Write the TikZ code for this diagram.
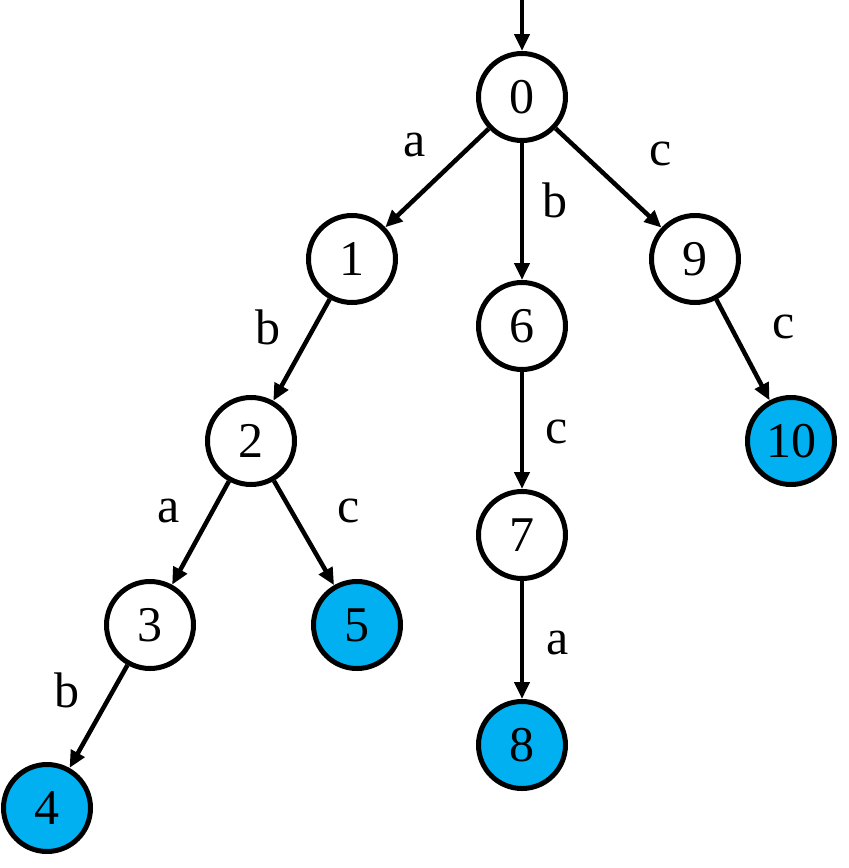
\documentclass[tikz,border=0pt]{standalone}
\usepackage{fontspec}
\setmainfont{Liberation Serif}
\usetikzlibrary{arrows.meta}
\definecolor{accept}{HTML}{00B0F0}
\begin{document}
\begin{tikzpicture}[x=1pt,y=-1pt,
  state/.style={circle,draw=black,line width=5pt,minimum size=87pt,inner sep=0pt,fill=white,font=\fontsize{50}{60}\selectfont},
  final/.style={state,fill=accept},
  lbl/.style={inner sep=0pt,font=\fontsize{50}{60}\selectfont},
  edge/.style={line width=4.5pt,-{Triangle[length=17pt,width=15pt]}}]
\useasboundingbox (0,0) rectangle (849,868);
\node[state] (n0) at (522,97) {0};
\node[state] (n1) at (352,259) {1};
\node[state] (n6) at (522,326) {6};
\node[state] (n9) at (695,259) {9};
\node[state] (n2) at (251,441) {2};
\node[final] (n10) at (791,441) {10};
\node[state] (n7) at (522,535) {7};
\node[state] (n3) at (150,625) {3};
\node[final] (n5) at (357,625) {5};
\node[final] (n8) at (522,745) {8};
\node[final] (n4) at (47,808) {4};
\coordinate (start) at (522,0);
\draw[edge] (start) -- (n0);
\draw[edge] (n0) -- (n1);
\draw[edge] (n0) -- (n6);
\draw[edge] (n0) -- (n9);
\draw[edge] (n1) -- (n2);
\draw[edge] (n6) -- (n7);
\draw[edge] (n9) -- (n10);
\draw[edge] (n2) -- (n3);
\draw[edge] (n2) -- (n5);
\draw[edge] (n7) -- (n8);
\draw[edge] (n3) -- (n4);
\node[lbl] (l01) at (415,145) {a};
\node[lbl] (l06) at (555,200) {b};
\node[lbl] (l09) at (661,154) {c};
\node[lbl] (l12) at (268,327) {b};
\node[lbl] (l67) at (557,432) {c};
\node[lbl] (l910) at (784,327) {c};
\node[lbl] (l23) at (169,511) {a};
\node[lbl] (l25) at (349,511) {c};
\node[lbl] (l78) at (558,643) {a};
\node[lbl] (l34) at (67,690) {b};
\end{tikzpicture}
\end{document}
